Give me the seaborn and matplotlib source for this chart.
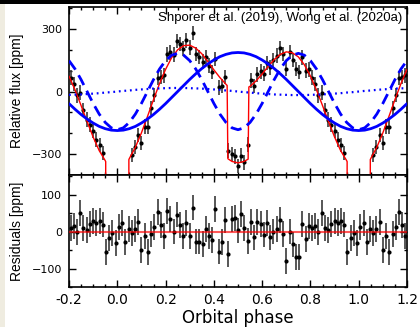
import numpy as np
import matplotlib
matplotlib.use("Agg")
import matplotlib.pyplot as plt
import matplotlib.ticker as mticker
from matplotlib.patches import Rectangle
import seaborn as sns

# ── binned, phase-folded light curve (75 bins per orbit) ─────────────────────
n_bins = 75
# NaN = bins inside the transit, below the plotted range
flux = [np.nan, np.nan, np.nan, np.nan, -305, -265, -209, -247, -168, -170,
        -79, -17, 65, 70, 77, 178, 187, 176, 242, 228,
        206, 245, 210, 281, 179, 166, 143, 164, 124, 93,
        156, 20, 27, 70, -283, -299, -311, -356, -307, -340,
        -254, 53, 26, 83, 96, 86, 137, 116, 149, 172,
        207, 179, 110, 190, 151, 107, 93, 164, 100, 106,
        66, 36, -18, -6, -88, -135, -159, -190, -231, -257,
        -295, np.nan, np.nan, np.nan, np.nan]
resid = [12, 22, -29, 6, -4, 6, 27, -49, -11, -55,
         -7, 12, 52, 18, -12, 55, 35, 0, 46, 18,
         -13, 22, -12, 65, -27, -27, -33, 7, -12, -22,
         62, -54, -28, 31, -60, 33, 37, 3, 47, 9,
         -26, 25, -16, 25, 20, -8, 24, -16, 0, 8,
         31, -6, -80, 0, -35, -69, -69, 21, -19, 16,
         9, 14, -1, 51, 10, 4, 20, 28, 23, 29,
         19, -56, -18, -4, -31]
flux_err = 35

# ── model components, sampled every 0.025 in phase from -0.2 to 1.2 ─────────
atmos = [-58, -85, -110, -132, -151, -167, -178, -185, -187, -185,
         -178, -167, -151, -132, -110, -85, -58, -29, 0, 29,
         58, 85, 110, 132, 151, 167, 178, 185, 187, 185,
         178, 167, 151, 132, 110, 85, 58, 29, 0, -29,
         -58, -85, -110, -132, -151, -167, -178, -185, -187, -185,
         -178, -167, -151, -132, -110, -85, -58]
ellip = [148, 108, 57, 0, -57, -108, -148, -174, -183, -174,
         -148, -108, -57, 0, 57, 108, 148, 174, 183, 174,
         148, 108, 57, 0, -57, -108, -148, -174, -183, -174,
         -148, -108, -57, 0, 57, 108, 148, 174, 183, 174,
         148, 108, 57, 0, -57, -108, -148, -174, -183, -174,
         -148, -108, -57, 0, 57, 108, 148]
beaming = [-16, -15, -14, -12, -10, -8, -5, -3, 0, 3,
           5, 8, 10, 12, 14, 15, 16, 17, 17, 17,
           16, 15, 14, 12, 10, 8, 5, 3, 0, -3,
           -5, -8, -10, -12, -14, -15, -16, -17, -17, -17,
           -16, -15, -14, -12, -10, -8, -5, -3, 0, 3,
           5, 8, 10, 12, 14, 15, 16]

# full model with transit and secondary eclipse
model_phase = [-0.2, -0.175, -0.15, -0.125, -0.1, -0.075, -0.05, -0.048, -0.044,
               0.044, 0.048, 0.05, 0.075, 0.1, 0.125, 0.15, 0.175, 0.2, 0.225,
               0.25, 0.275, 0.3, 0.325, 0.35, 0.375, 0.4, 0.425, 0.45, 0.455,
               0.458, 0.475, 0.5, 0.525, 0.542, 0.545, 0.55, 0.575, 0.6, 0.625,
               0.65, 0.675, 0.7, 0.725, 0.75, 0.775, 0.8, 0.825, 0.85, 0.875,
               0.9, 0.925, 0.95, 0.952, 0.956, 1.044, 1.048, 1.05, 1.075, 1.1,
               1.125, 1.15, 1.175, 1.2]
model_flux = [74, 8, -67, -144, -218, -283, -331, -336, -9000,
              -9000, -326, -321, -267, -198, -120, -39, 38, 106, 162,
              200, 220, 222, 208, 181, 144, 104, 67, 35, 29,
              -322, -335, -342, -335, -324, 22, 25, 51, 84, 120,
              153, 178, 190, 186, 166, 128, 74, 8, -67, -144,
              -218, -283, -331, -336, -9000, -9000, -326, -321, -267, -198,
              -120, -39, 38, 106]

sns.set_style("ticks", {"axes.edgecolor": "black", "text.color": "black",
                        "xtick.color": "black", "ytick.color": "black",
                        "axes.labelcolor": "black"})
plt.rcParams["font.family"] = ["DejaVu Sans"]

comp_phase = np.round(np.arange(-0.2, 1.2001, 0.025), 3)
phase = (np.arange(n_bins) + 0.5) / n_bins
ext_phase = np.concatenate([phase - 1, phase, phase + 1])
ext_flux = np.tile(np.array(flux, dtype=float), 3)
ext_resid = np.tile(np.array(resid, dtype=float), 3)
keep = (ext_phase > -0.2) & (ext_phase < 1.2)
px, pf, pr = ext_phase[keep], ext_flux[keep], ext_resid[keep]

fig = plt.figure(figsize=(4.2, 3.27), dpi=100)
ax1 = fig.add_axes([69 / 420, 1 - 175 / 327, 338 / 420, 168 / 327])
ax2 = fig.add_axes([69 / 420, 1 - 287 / 327, 338 / 420, 112 / 327], sharex=ax1)

# ── top panel ────────────────────────────────────────────────────────────────
ax1.errorbar(px, pf, yerr=flux_err, fmt="none", ecolor="#3a3a3a",
             elinewidth=1.2, zorder=2)
sns.scatterplot(x=px, y=pf, ax=ax1, color="black", s=9, linewidth=0, zorder=3)
sns.lineplot(x=model_phase, y=model_flux, ax=ax1, color="red", lw=1.0, zorder=4)
sns.lineplot(x=comp_phase, y=atmos, ax=ax1, color="#0000ff", lw=2.0, zorder=5)
sns.lineplot(x=comp_phase, y=ellip, ax=ax1, color="#0000ff", lw=2.0, zorder=5)
ax1.lines[-1].set_dashes((4, 2.3))
sns.lineplot(x=comp_phase, y=beaming, ax=ax1, color="#0000ff", lw=1.6, zorder=5)
ax1.lines[-1].set_dashes((0.8, 1.7))

ax1.text(0.985, 0.968, "Shporer et al. (2019), Wong et al. (2020a)",
         transform=ax1.transAxes, ha="right", va="top", fontsize=9.5,
         family="Liberation Sans")
ax1.set_ylim(-400, 405)
ax1.yaxis.set_major_locator(mticker.MultipleLocator(300))
ax1.yaxis.set_minor_locator(mticker.MultipleLocator(100))
ax1.set_ylabel("Relative flux [ppm]", fontsize=10, family="Liberation Sans")
ax1.yaxis.set_label_coords(-0.133, 0.5)
ax1.tick_params(labelbottom=False)

# ── residuals ────────────────────────────────────────────────────────────────
ax2.errorbar(px, pr, yerr=flux_err, fmt="none", ecolor="#3a3a3a",
             elinewidth=1.2, zorder=2)
sns.scatterplot(x=px, y=pr, ax=ax2, color="black", s=9, linewidth=0, zorder=3)
ax2.axhline(0, color="red", alpha=0.65, lw=1.5, zorder=4)
ax2.set_ylim(-150, 153)
ax2.yaxis.set_major_locator(mticker.MultipleLocator(100))
ax2.yaxis.set_minor_locator(mticker.MultipleLocator(50))
ax2.set_ylabel("Residuals [ppm]", fontsize=10, family="Liberation Sans")
ax2.yaxis.set_label_coords(-0.133, 0.5)
ax2.set_xlabel("Orbital phase", fontsize=12)
ax2.xaxis.set_label_coords(0.5, -0.20)
ax2.set_xlim(-0.2, 1.2)
ax2.xaxis.set_major_locator(mticker.MultipleLocator(0.2))
ax2.xaxis.set_minor_locator(mticker.MultipleLocator(0.05))
ax2.xaxis.set_major_formatter(mticker.FormatStrFormatter("%.1f"))
ax2.tick_params(axis="x", labelsize=10, pad=4)

for ax in (ax1, ax2):
    ax.tick_params(which="both", direction="in", top=True, right=True, width=1)
    ax.tick_params(which="major", length=5)
    ax.tick_params(which="minor", length=2.5)
    ax.tick_params(axis="y", labelsize=8, pad=5)
    for s in ax.spines.values():
        s.set_linewidth(1.2)

# cropped page edges
fig.add_artist(Rectangle((0, 0), 5 / 420, 1, transform=fig.transFigure,
                         facecolor="#efece0", edgecolor="none", zorder=0))
fig.add_artist(Rectangle((0, 1 - 4 / 327), 1, 4 / 327, transform=fig.transFigure,
                         facecolor="black", edgecolor="none", zorder=10))

fig.savefig("out.png", dpi=100)
